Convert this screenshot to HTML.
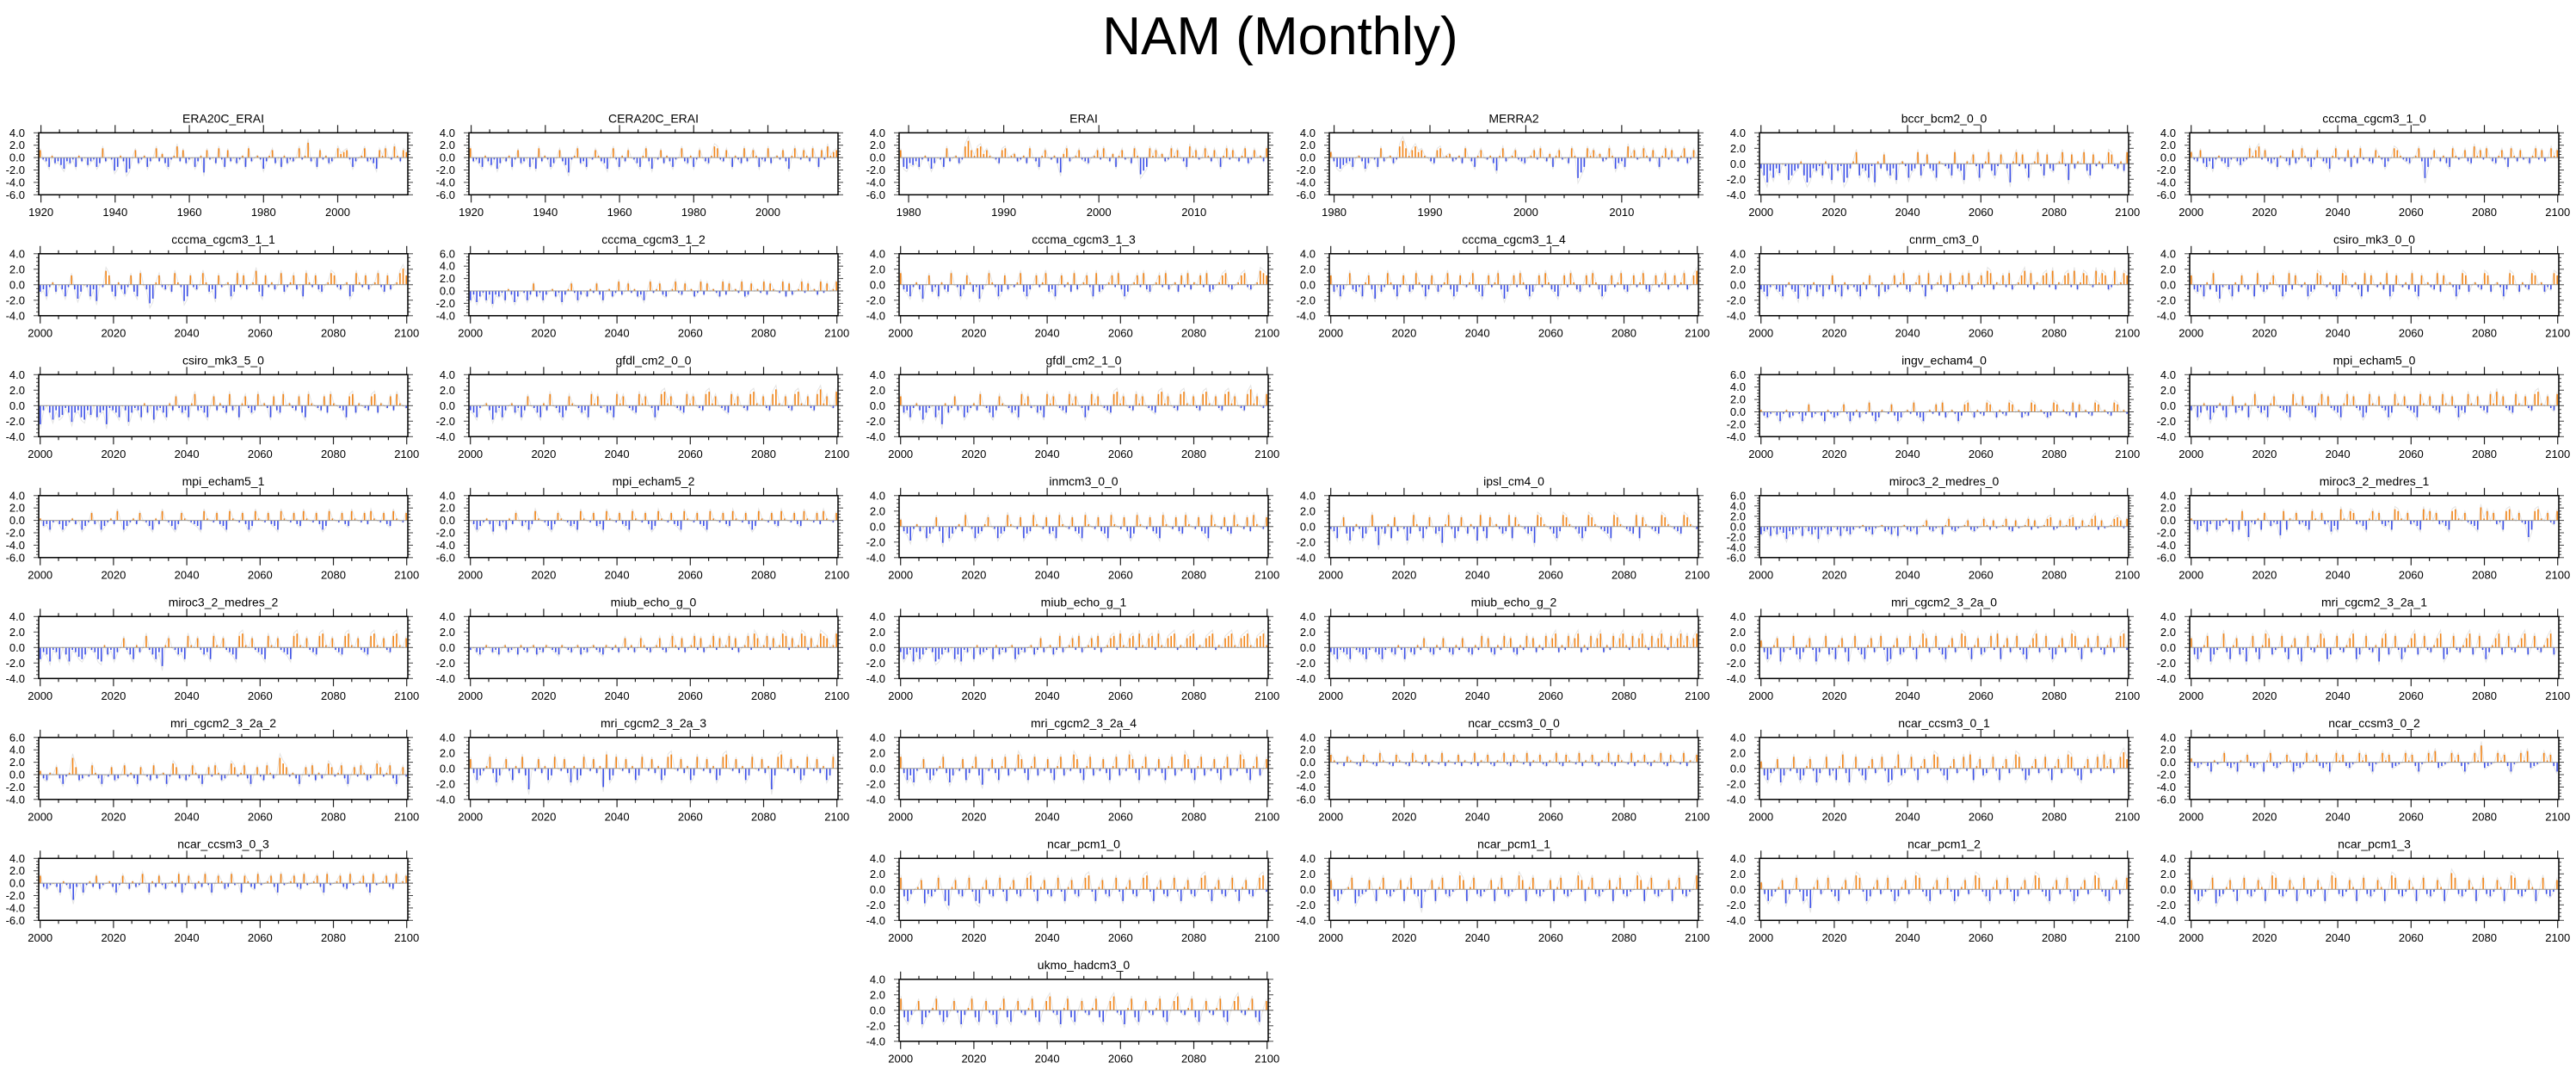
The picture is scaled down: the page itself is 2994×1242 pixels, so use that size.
<!DOCTYPE html>
<html><head><meta charset="utf-8"><title>NAM (Monthly)</title>
<style>html,body{margin:0;padding:0;background:#fff}svg{display:block}text{font-family:"Liberation Sans",Arial,sans-serif;fill:#000}</style>
</head><body>
<svg id="chart" xmlns="http://www.w3.org/2000/svg" width="2994" height="1242" viewBox="0 0 2994 1242">
<rect width="2994" height="1242" fill="#fff"/>
<text x="1488" y="63" font-size="62" text-anchor="middle">NAM (Monthly)</text>
</svg>
<script>
// panel names
const panelNames = ["ERA20C_ERAI","CERA20C_ERAI","ERAI","MERRA2","bccr_bcm2_0_0","cccma_cgcm3_1_0",
"cccma_cgcm3_1_1","cccma_cgcm3_1_2","cccma_cgcm3_1_3","cccma_cgcm3_1_4","cnrm_cm3_0","csiro_mk3_0_0",
"csiro_mk3_5_0","gfdl_cm2_0_0","gfdl_cm2_1_0","ingv_echam4_0","mpi_echam5_0",
"mpi_echam5_1","mpi_echam5_2","inmcm3_0_0","ipsl_cm4_0","miroc3_2_medres_0","miroc3_2_medres_1",
"miroc3_2_medres_2","miub_echo_g_0","miub_echo_g_1","miub_echo_g_2","mri_cgcm2_3_2a_0","mri_cgcm2_3_2a_1",
"mri_cgcm2_3_2a_2","mri_cgcm2_3_2a_3","mri_cgcm2_3_2a_4","ncar_ccsm3_0_0","ncar_ccsm3_0_1","ncar_ccsm3_0_2",
"ncar_ccsm3_0_3","ncar_pcm1_0","ncar_pcm1_1","ncar_pcm1_2","ncar_pcm1_3","ukmo_hadcm3_0"];
// grid cell (row, col) of each panel
const panelRows = [0,0,0,0,0,0, 1,1,1,1,1,1, 2,2,2,2,2, 3,3,3,3,3,3, 4,4,4,4,4,4, 5,5,5,5,5,5, 6,6,6,6,6, 7];
const panelCols = [0,1,2,3,4,5, 0,1,2,3,4,5, 0,1,2,4,5, 0,1,2,3,4,5, 0,1,2,3,4,5, 0,1,2,3,4,5, 0,2,3,4,5, 2];
// y-axis ranges
const yMaxes = [4,4,4,4,4,4, 4,6,4,4,4,4, 4,4,4,6,4, 4,4,4,4,6,4, 4,4,4,4,4,4, 6,4,4,4,4,4, 4,4,4,4,4, 4];
const yMins  = [-6,-6,-6,-6,-4,-6, -4,-4,-4,-4,-4,-4, -4,-4,-4,-4,-4, -6,-6,-4,-4,-6,-6, -4,-4,-4,-4,-4,-4, -4,-4,-4,-6,-4,-6, -6,-4,-4,-4,-4, -4];
// time axis: 0 = 20th-c reanalysis, 1 = ERAI, 2 = MERRA2, 3 = 2000-2100 scenario
const axisKinds = [0,0,1,2,3,3, 3,3,3,3,3,3, 3,3,3,3,3, 3,3,3,3,3,3, 3,3,3,3,3,3, 3,3,3,3,3,3, 3,3,3,3,3, 3];
const axisStart = [1919.4, 1979.0, 1979.5, 1999.6];
const axisEnd   = [2018.9, 2017.8, 2018.0, 2100.3];
const axisMajor = [[1920,1940,1960,1980,2000],[1980,1990,2000,2010],[1980,1990,2000,2010],[2000,2020,2040,2060,2080,2100]];
const axisMinorStep = [5, 2, 2, 5];
// NAM index series, one letter per value: 'm' = 0, each letter step = 0.3
const series = [
"qlkhnjkigkjlhnkmiklhjrkmlfhnkegmqjlnhkmrkojhlnskqjlmhkneqlmjrlhqkmjlnhrkmnlgknqjmhnjlkmrlnukmhqlnjkmropqlhkmnrkljgqnrmlsnkqp",
"rkljhnkilgjmknhlqjkmhlgrknlhjmqkielnrjkhmlqnkjgmrlhnkqmljhnrkgmlqjnkhlmrkjnhlqmkjnsrlkqmhnljrkmqnhlkrjmnlqkgnrmlqnkrmhqlsnpq",
"qhgjikhlnkgjmlhrkmnjlsvqnrsoqnmljqrmnoklnjrmkhnqmlnjeorkmnqlkjmnqlrmkohnqlmjrndfhrnqmoklrnqmkhsnqlmrnkqmhnrlqmknrjlqmnkr",
"pkhgijkhmnkgjmlhrkmnjlsvrnqspqnmkjqrmnoklnjrmkhnqmlnjfnrkmnqlkjmnqlrmkohnqlmjrnbehrnqmoklrngjkhsnqlmrnkqmhnrlqmknrjlqm",
"khejgkimlfhjknhegkjlhnkfmjlegknrhkjglenkqjhkfmnlgjkrhlqkjgnmlkhrkjfnmqlgknrjhlqmkenrlqkgmnrlhqkjmnrlfqknmrjhqlnkmrqlknjr",
"plkqjhkglnkjhlmkiklrnqslqkjlhnmkiqjlrnkhlqmkjgnrlmkqhnjrlmkjqnlhkmrqnlkjmnrkbhlqmknjhrnlmqkjsnqlrmkjnqlhrnkqlmjnrlqkmrnq",
"jkhlnjmkhlqkgjmlhkfmlsqjhnkilqjhrmkegnqlkmjrnlfhqlkmrnjkgqlmnhjrlqkmnsjhqlnkmrjlnqkmhrnlqkjmnrqlkmnhjrnlqkmnrljqkmnrtq",
"hkgjlhkfkjlhnkgjmlhkqjlhkmnjlgknqlhkmjnlqkhmnjlrkmqlnjkhmrlnqkjmnrlkqmnjlrkqmnljrkqmnlrjkqmnlrkqnmlrjqkmnrlqmnkrlqmnr",
"rkjhlnkgmqjlhnkjrmlhkqnjlgkmrnlhjqkmlnrjhkmqlnrjkhmqlnjrkmnqlhrjkmnqlrkhjmnqlrkjmnqlrkmnjqlrknmqlrjkmnqrlkmnqrlkmnsrq",
"qjlhkmrkjlhnqkgmjlrnkhlqmjkrnlhkqmjlnrkhjqmlnrkjhmqlnrkgjmqlrnkhjmqlrnkjhmqlrnkjmqlrnkhjmqlnrkjmqlnrkjmqlnrkmqlnrkmqs",
"kjhlmkjhlnkjgmlhknjlhmkqjlhnkmljhnkqmlhnjkmqlnrkjmnqlhrkmnqljrkmnqlrkmnqlsrknmqlrkmnqslrknmqrlsknmqrlsknrqmlsnrqklsmnrq",
"qkjlhnkrjglmkhnjqlkmhrljknqmlhjrkqmlnhjkrqmlnkhjrqmlnkhrjqmlnkrhjqmlnkrjhqmnlkrjqmnlhkrqjmnlkrqjmnlhkrqmjnlkrqmnjlkrq",
"ekmjgkhiljfjkhgkimhjkelkjhmkfjlkhnjmgkljhnkqljkhnrkljhmqknljrkmhnqljkrmnlhqkjrmnlkqjhrnmlkqjrnmlkhqrjnmlkqrjnmlqkrnml",
"kjhlmnkgjlhkmnjlhkqmljhnkrmljhkqnmljkhrnqlmjkhrnqmlkjrnqmlhkrsnqmlkjrnqmlkrsnqmlkjrnqmlkrsnmqlkrtnmqlkrsnmqlkrtnqmls",
"qjkhlnkgjlmhkenjlqkmhjlnkrmljhkqnmljkhrnqlmjkhrnqmlkjrnqmlhkrnqmlkjrsnqmlkrnqmlkjrsnqmlkrsnmqlkrsnmqlkrsnqmlkrtnqmlr",
"nkjlmkhlnjkmlhkqjlmkhnljkmqlhknjmlrkhjnmlqkhjmnlrkjhmnlqkrjmnlhkqrmjnlkrqmjnlkrqmnjlkrqmnljkrqmnlkrjqmnlkrqmnlkrqmnl",
"kmhjnkgjlnkhmqjlknhmrljkhnqmlkjhrnmqlkjhnrmqlkjhnrmqlkhjrnmqlkhjrnmqlkjhrnmqlkjrnmqlhkjrnmqlkjrnsmqlkjrnmqlkrsnmqlkr",
"njkhlmkhjlnkmhjlqkmhjlnkrmhjlnkqmljhnkrmljhkqnmlkjhrnmlqkjhrnmlqkhjrnmlqkjhrnmlqkjrnmlqkhjrnmlqkjrnmlqkrnmlqkjrnmlq",
"mkhjlnkgmjlhnkqmjlhkrnmljhkqnmljkhrnmlqjkhrnmlqkjhrnmlqkhjrnmlqkjhrnmlqkjhrnmlqkjrnmlqkhjrnmlqkjrnmlqkjrnmlqkrnmlq",
"pkjglnkmhjlqkfmhjlnkrmlhjknqmlhjkrnmlqhjkrnmlqjkhrnmlqkjhrnmlqkjhrnmlqkhjrnmlqkjhrnmlqkjrnmlqkjhrnmlqkjrnmlqkrnmlq",
"lkhmqjgknlhjmrkeljnhqkmlgjrnkhlqmjkfnrlhkqmjnlgrkhqmnljkrhqnmljkfrqnmljhkrqnmljhkrqnmlkjhrqnmlkjrhqnmlkjrqnmlkjrqnml",
"hjkglhkiejhklgmjhkeklhjmkgljhkmlnjkhlmnjkhlgmnkjlhmnqkjlmhnrkjlmnqkjlmrnkqlmnrkjqlmnrkqlmnrsklqmnrsklqmnrtkqlmnrsqlr",
"nkhjlgkmhjlnkgmhrjdlknhqmjlkerhnmqkljhrnmqklgjhsnmrqkljhnrmqkjlhsrnmqkljhsnrmqkljhrsnmqlkjhtnrmqklhrsnmqlkdhrsnmqlkr",
"hkjglkhmjglkihjmlkhgnjlhkmqljhnkmrljhkenqmljkhrnmqljkhrnmqlkjhrsnmqlkjhrnmqlkjhrsnmqlkjrsnmqlkjrsnmqlkjrsnmqlkrsnmq",
"lmkjlnmkljmnklmjnlkmnjlknmlkjnmlkmnjlkmnlkjnmlnkmqlnkmqnlkmnqlkmrnlqkmnrlqkmnrlqmnrlqkmnrlsqmnrlqmnsrlqmnsrlqmnsrqmns",
"khjlgkhjlmkghjlkmhjglkmhnjklmhnjlkmnhjlkmnjlqkmnjlrkmnqlrkmnqlrkmnqrlsnmqrlsnmqrlsnmqrslnmqrslnmqrslnmqrsnmqrsnmqrsn",
"kjhlkjhmlkjhlmkjhlmkjnlhmkjnlqmkjnlqmkjnlqmkjnlrmqkjnlrmqkjnlrmqknlrmqsknlrmqsknlrmqsknlrmqsnlrmqsnlrmqsnlrmqsnrmqs",
"pkhjnqgkmlrjhknqlgkmrjlhnqkgmrljhnqkmrlghnqjkmrlhnsqkmrljhnqkmsrlhnqjkmrlshnqkmrljhnqskmrlhjnqkmsrlhnqkmrljnqkmrsl",
"qjhknrgjlmskhnqjlgmrkhnsqjlmrkhnqjgmrlknsqhjmrlknqshjmrlkngqsjmrlhknqsjmrlknqshjmrlknqsjmrlhknqsjmrlknqsjmrlknqsjm",
"okjnmqkhlnvqjkmlrnkhmlqjkmrlnkhqmljrkmnhlsqkmjlrnkhmqlrnjkmsqlnrkhmqljrnkmvsqlnkhmqlrjnkmsqlnrkhmqlrnjkmsqlnrkhmql",
"qkhjlnrkgjmqlhnkrjdmlqknhjrmlqkgnhjrmlqkneshjrmlqknhjrmlqknhjrsmlqknhjrmlqknhjrsmlqknhjrmlqkndjrsmlqknhjrmlqknhjrm",
"rkhjglmqkhjlnrkgjmlqhknrjfmlqkhnrjmlsqkhnrjmlqkhnrjmlsqkhnrjmlqkhnrjmlsqkhnrjmlqkhnrjmlsqkhnrjmlqkhnrjmlsqkhnrjmq",
"qnlmkpnmlkqnmlkrnmlkqnmlkrnmlqknmlrknmlqknmlrknmqlknmrlkqnmlrknmqlknmrlkqnmlrknmqlknmrlkqnmlrknmqlknmrlkqnmlrknmq",
"pjhklqgjmlrkhjnqlgkmrjlhnskgmrljhnqkmrlghnsjkmrlhnqkmsrljhnqkmrlshnqjkmrlhnqkmsrlhjnqkmrlhnqkmsrljhnqkmrlsnqkmrtq",
"okjlmkhnlmrkjlhnmqkjlmhnrkjlmqnhkjlrmnqkjlhmrnqkjlmrnqkhlmrnqjklmrnqkhlmrnsjklmrnqkhlmrnvjklmrnqkhlmrnsjklmrnqkh",
"qkjlmkhnljdkmhlnkqjlmnkhlqmjnklrmhnkqljmnkrhlqmjnkrlhmqnjkrlmhqnkjrlmnqkhrlmnqkjrlmnqkhrlmnqkjrlmnqkhrlmnqkjrmnq",
"rjhkmnqgkjlrmhfnqkjmrlhgnqkjmrlhnqkjmrslhnqkjmrlhnqkjmrslhnqkjmrlhnqkjmrslhnqkjmrlhnqkjmrslhnqkjmrlhnqkjmrsl",
"qjhkmnrgjklqmhnrkjlmqhnrkjelmqhnrkjlmsqhnrkjlmqhnrkjlmsqhnrkjlmqhnrkjlmsqhnrkjlmqhnrkjlmsqhnrkjlmqhnrkjlms",
"pkhjlnqgkmrlhjenqkmrljhnqkmsrlhjnqkmrlhjnqkmsrljhnqkmrlhjnqkmsrljhnqkmrlhjnqkmsrljhnqkmrlhjnqkmsrljhnqkmr",
"qkhjlmrgjknqlhmrkjlqnhmsrkjlqnhmrkjlqnhmsrkjlqnhmrkjlqnhmsrkjlqnhmrkjlqnhmtrkjlqnhmrkjlqnhmsrkjlqnhmrkjlq",
"rjhkmqgjlnrkhjmqlgknrjhmqlkgnrjhmqlknrjhmqslkgnrjhmqlknrjhmqslkgnrjhmqlknrjhmqslknrjhmqlknrjhmqslknrjhmq"
];

const NS = "http://www.w3.org/2000/svg";
const svg = document.getElementById("chart");
function mk(tag, attrs, parent) {
  const e = document.createElementNS(NS, tag);
  for (const k in attrs) e.setAttribute(k, attrs[k]);
  (parent || svg).appendChild(e);
  return e;
}
function decode(s) { return Array.from(s).map(ch => (ch.charCodeAt(0) - 109) * 0.3); }

const W = 429, H = 72;
panelNames.forEach((name, p) => {
  const left = 45 + panelCols[p] * 500;
  const top = 154.3 + panelRows[p] * 140.5;
  const ymax = yMaxes[p], ymin = yMins[p];
  const k = axisKinds[p];
  const t0 = axisStart[k], t1 = axisEnd[k];
  const xs = t => left + (t - t0) / (t1 - t0) * W;
  const ys = v => top + (ymax - v) / (ymax - ymin) * H;
  const clampV = v => Math.max(ymin, Math.min(ymax, v));

  const g = mk("g", {});
  
  

  const title = mk("text", {x: left + W / 2, y: top - 12, "font-size": 14, "text-anchor": "middle"}, g);
  
  
  title.textContent = name;

  const vals = decode(series[p]);
  const n = vals.length;
  const tx = i => xs(t0 + (i + 0.5) * (t1 - t0) / n);

  // grey raw monthly line
  const pts = vals.map((v, i) => tx(i).toFixed(1) + "," + ys(clampV(v * 1.25)).toFixed(1)).join(" ");
  const gl = mk("polyline", {points: pts, fill: "none", stroke: "#e4e4e4", "stroke-width": 1}, g);
  
  

  // bars
  const bars = mk("g", {}, g);
  
  
  const y0 = ys(0);
  vals.forEach((v, i) => {
    const x = tx(i);
    const yv = ys(clampV(v));
    const r = mk("rect", {x: (x - 0.8).toFixed(2), y: Math.min(yv, y0).toFixed(2), width: 1.6,
      height: Math.max(0.6, Math.abs(yv - y0)).toFixed(2), fill: v >= 0 ? "#f28518" : "#3b4fe8"}, bars);
    
    
  });
  const zl = mk("line", {x1: left, x2: left + W, y1: y0, y2: y0, stroke: "#9a9a9a", "stroke-width": 1}, g);
  
  

  // y ticks
  const yt = mk("g", {stroke: "#444", "stroke-width": 1}, g);
  
  
  for (let v = ymin; v <= ymax + 1e-6; v += 0.5) {
    const major = Math.abs(v / 2 - Math.round(v / 2)) < 1e-6;
    const L = major ? 6 : 3;
    const y = ys(v);
    mk("line", {x1: left - L, x2: left, y1: y, y2: y}, yt);
    mk("line", {x1: left + W, x2: left + W + L, y1: y, y2: y}, yt);
    if (major) {
      const lb = mk("text", {x: left - 16, y: y + 4.5, "font-size": 13, "text-anchor": "end", stroke: "none"}, g);
      
      
      lb.textContent = v.toFixed(1);
    }
  }
  // x ticks
  const xt = mk("g", {stroke: "#222", "stroke-width": 1.2}, g);
  
  
  const ms = axisMinorStep[k];
  for (let t = Math.ceil(t0 / ms) * ms; t <= t1; t += ms) {
    const major = axisMajor[k].includes(t);
    const L = major ? 9 : 4;
    const x = xs(t);
    mk("line", {x1: x, x2: x, y1: top - L, y2: top}, xt);
    mk("line", {x1: x, x2: x, y1: top + H, y2: top + H + L}, xt);
  }
  axisMajor[k].forEach(t => {
    const lb = mk("text", {x: xs(t), y: top + H + 24.5, "font-size": 13, "text-anchor": "middle"}, g);
    
    
    lb.textContent = t;
  });
  const fr = mk("rect", {x: left, y: top, width: W, height: H, fill: "none", stroke: "#000", "stroke-width": 1.5}, g);
  
  
});
</script>
</body></html>
